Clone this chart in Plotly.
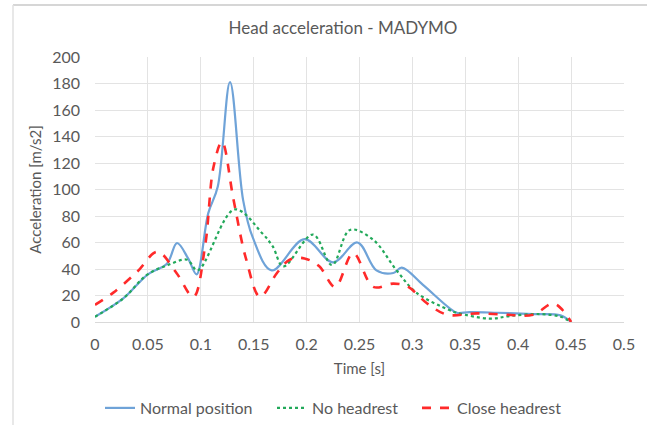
import plotly.graph_objects as go

# Data
t_normal = [0, 0.027, 0.05, 0.068, 0.0775, 0.088, 0.096, 0.107, 0.116, 0.1276, 0.14, 0.149,
            0.167, 0.198, 0.225, 0.248, 0.266, 0.282, 0.29, 0.31, 0.335, 0.342, 0.354, 0.38,
            0.414, 0.44, 0.45]
v_normal = [4, 18, 36, 44, 59.6, 48, 36, 82, 102, 181, 92, 64,
            39, 62.5, 45, 60, 39, 37, 41, 28, 10.5, 7, 7.5, 7,
            6, 5, 0]

t_nohead = [0, 0.027, 0.049, 0.069, 0.087, 0.097, 0.132, 0.158, 0.168, 0.178, 0.206, 0.224,
            0.241, 0.263, 0.285, 0.304, 0.335, 0.342, 0.373, 0.392, 0.42, 0.44, 0.45]
v_nohead = [4, 18, 35.5, 43, 47, 39, 85, 67, 57, 42, 66, 43,
            69.5, 62, 39, 22, 9, 7, 2.5, 4.5, 6, 4, 0]

t_close = [0, 0.017, 0.04, 0.059, 0.077, 0.093, 0.104, 0.112, 0.12, 0.131, 0.143, 0.156,
           0.172, 0.184, 0.198, 0.212, 0.227, 0.244, 0.263, 0.282, 0.295, 0.314, 0.333,
           0.361, 0.389, 0.414, 0.433, 0.442, 0.45]
v_close = [13, 22, 38, 53, 37, 19, 57, 117, 136, 92, 47, 19,
           37, 47, 48, 42, 26.5, 52, 26.5, 29, 27, 14, 5.5,
           6.5, 5.5, 5.5, 14, 9, 0]

x_ticks = [0, 0.05, 0.1, 0.15, 0.2, 0.25, 0.3, 0.35, 0.4, 0.45, 0.5]
x_tick_labels = ["0", "0.05", "0.1", "0.15", "0.2", "0.25", "0.3", "0.35", "0.4", "0.45", "0.5"]
y_ticks = list(range(0, 201, 20))

FONT = "Lato"
GREY = "#595959"

W, H = 651, 425
L, R, T, B = 95, 27, 57, 103
PW, PH = W - L - R, H - T - B

fig = go.Figure()
fig.add_trace(go.Scatter(x=t_normal, y=v_normal, mode="lines", name="Normal position",
                         legend="legend",
                         line=dict(color="#6FA3D8", width=2.2, shape="spline", smoothing=1)))
fig.add_trace(go.Scatter(x=t_nohead, y=v_nohead, mode="lines", name="No headrest",
                         legend="legend2",
                         line=dict(color="#22A95A", width=2.2, dash="dot", shape="spline", smoothing=1)))
fig.add_trace(go.Scatter(x=t_close, y=v_close, mode="lines", name="Close headrest",
                         legend="legend3",
                         line=dict(color="#FF2A2A", width=2.6, dash="dash", shape="spline", smoothing=1)))


def leg(px_start):
    return dict(orientation="h", x=(px_start - L) / PW, xanchor="left",
                y=(322 - 408) / PH, yanchor="middle", bgcolor="rgba(0,0,0,0)",
                font=dict(size=16, color=GREY, family=FONT), itemwidth=30)


fig.update_layout(
    width=W, height=H,
    paper_bgcolor="white", plot_bgcolor="white",
    margin=dict(l=L, r=R, t=T, b=B, autoexpand=False),
    font=dict(family=FONT, size=16, color=GREY),
    title=dict(text="Head acceleration - MADYMO", x=343 / W, xanchor="center",
               y=1 - 28 / H, yanchor="middle", font=dict(size=17, color=GREY, family=FONT)),
    showlegend=True,
    legend=leg(105 - 5),
    legend2=leg(277 - 5),
    legend3=leg(422 - 5),
    shapes=[
        dict(type="line", xref="paper", yref="paper", x0=(13 - L) / PW, x1=(647 - L) / PW,
             y0=1 + (T - 5) / PH, y1=1 + (T - 5) / PH, layer="above",
             line=dict(color="#D6D6D6", width=2)),
        dict(type="line", xref="paper", yref="paper", x0=(13 - L) / PW, x1=(13 - L) / PW,
             y0=1 + (T - 5) / PH, y1=-B / PH, layer="above",
             line=dict(color="#E0E0E0", width=1.5)),
    ],
)
fig.update_xaxes(range=[0, 0.5], tickvals=x_ticks, ticktext=x_tick_labels,
                 showgrid=True, gridcolor="#E3E3E3", gridwidth=1,
                 zeroline=False, showline=True, linecolor="#D9D9D9",
                 ticks="", ticklabelstandoff=8, automargin=False,
                 title=dict(text="Time [s]", font=dict(size=15, color=GREY), standoff=11))
fig.update_yaxes(range=[0, 200], tickvals=y_ticks,
                 showgrid=True, gridcolor="#E3E3E3", gridwidth=1,
                 zeroline=False, showline=False,
                 ticks="", ticklabelstandoff=14, automargin=False,
                 title=dict(text="Acceleration [m/s2]", font=dict(size=15, color=GREY), standoff=6))

fig.write_html("out.html", config={"displayModeBar": False},
               post_script="document.body.style.margin='0';")
